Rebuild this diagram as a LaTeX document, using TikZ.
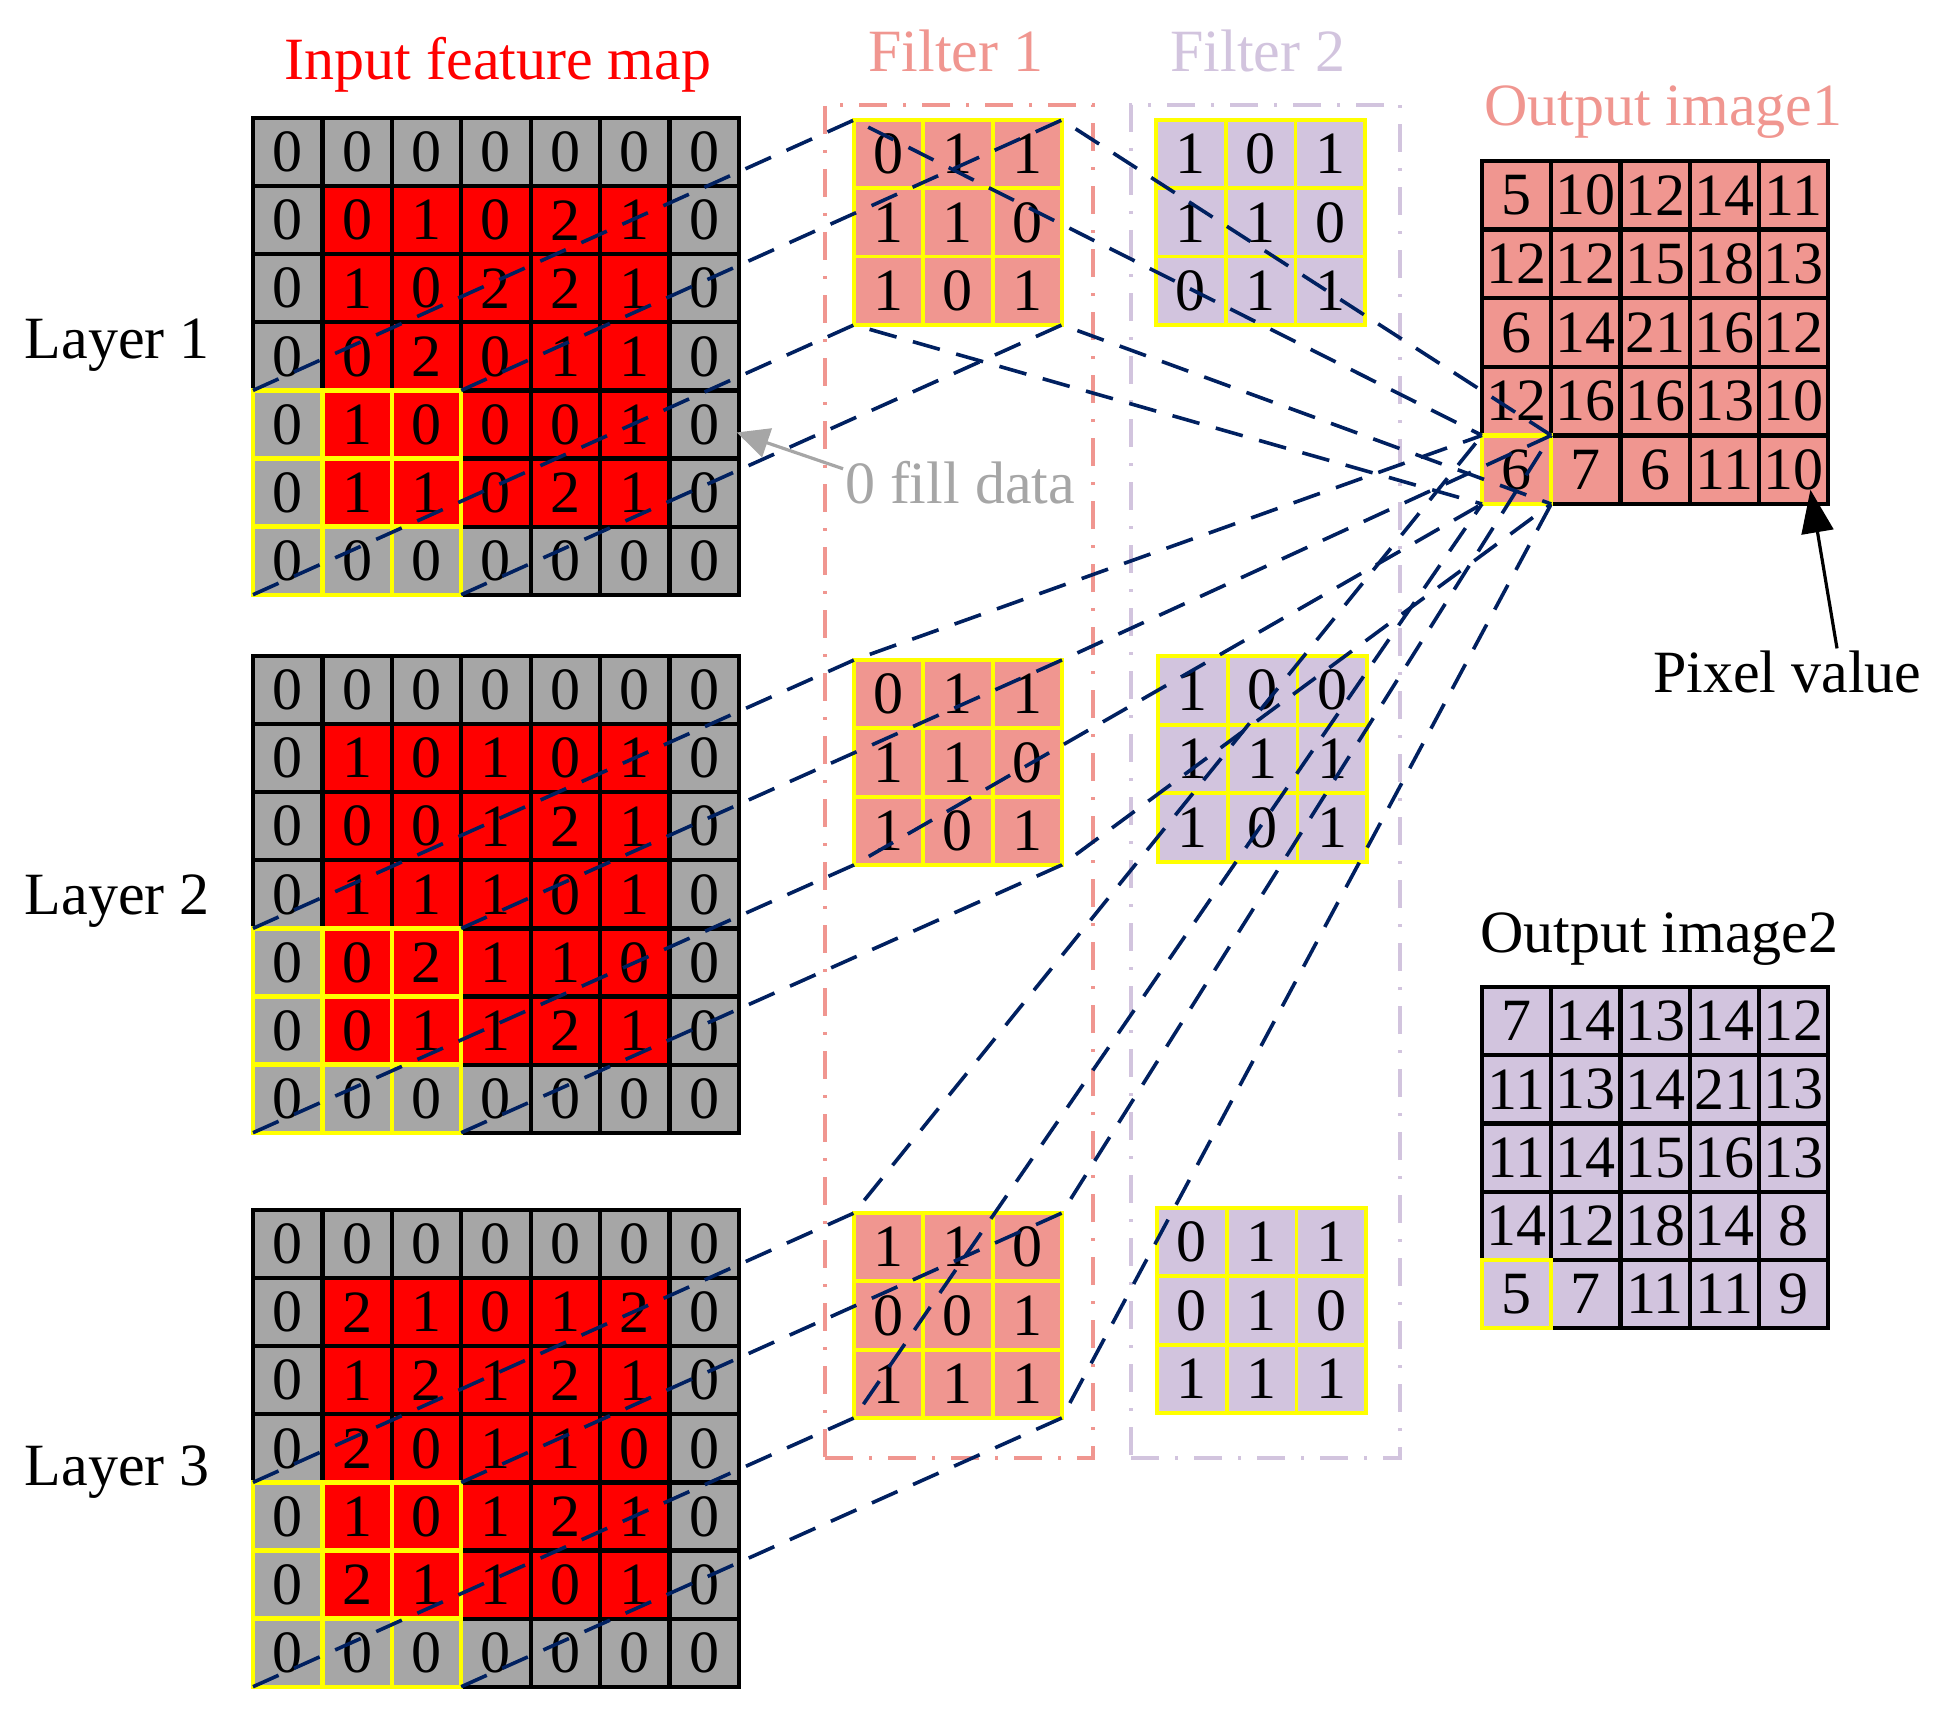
\documentclass[tikz,border=0pt]{standalone}
\usepackage{fontspec}
\setmainfont{Liberation Serif}
\usetikzlibrary{arrows.meta,calc}
\definecolor{cred}{RGB}{255,0,0}
\definecolor{cgray}{RGB}{166,166,166}
\definecolor{csalmon}{RGB}{240,150,144}
\definecolor{clav}{RGB}{210,196,222}
\definecolor{cyel}{RGB}{255,255,0}
\definecolor{cnavy}{RGB}{0,32,96}
\newcommand{\bigfont}{\fontsize{30}{36}\selectfont}
\tikzset{
 cellbase/.style={inner sep=0pt, outer sep=0pt, font=\bigfont},
 incell/.style={cellbase, draw=black, line width=2.1pt},
 ywin/.style={draw=cyel, line width=2.2pt},
 fonecell/.style={cellbase, draw=cyel, fill=csalmon, line width=1.9pt},
 ftwocell/.style={cellbase, draw=cyel, fill=clav, line width=1.9pt},
 oonecell/.style={cellbase, draw=black, fill=csalmon, line width=2.1pt},
 otwocell/.style={cellbase, draw=black, fill=clav, line width=2.1pt},
 conn/.style={draw=cnavy, line width=1.8pt, dash pattern=on 14pt off 8.5pt},
 fbox/.style={line width=1.6pt, dash pattern=on 14pt off 8pt on 1.5pt off 8pt, inner sep=0pt, outer sep=0pt},
 lbl/.style={font=\bigfont, inner sep=0pt, outer sep=0pt},
 garrow/.style={draw=cgray, line width=1.6pt, -{Triangle[length=16pt,width=15pt]}},
 barrow/.style={draw=black, line width=1.6pt, -{Triangle[length=21.5pt,width=16pt]}},
}
% generic grid: #1 name, #2 x0, #3 y0, #4 cell w (px), #5 cell h (px), #6 style, #7 data
\newcommand{\mkgrid}[7]{%
  \foreach \row [count=\r from 0] in {#7} {
    \foreach \v [count=\c from 0] in \row {
      \node[#6, minimum width=#4*0.5pt, minimum height=#5*0.5pt] (#1-\r-\c) at ({#2+(\c+0.5)*#4},{#3+(\r+0.5)*#5}) {\v};
    }
  }
}
% input grid: #1 name, #2 y0, #3 data
\newcommand{\ingrid}[3]{%
  \foreach \row [count=\r from 0] in {#3} {
    \foreach \v [count=\c from 0] in \row {
      \pgfmathtruncatemacro\inn{(\r>0)*(\r<6)*(\c>0)*(\c<6)}
      \ifnum\inn=1 \def\cf{cred}\else\def\cf{cgray}\fi
      \node[incell, fill=\cf, minimum width=34.7pt, minimum height=34.05pt] (#1-\r-\c) at ({253+(\c+0.5)*69.4},{#2+(\r+0.5)*68.1}) {\v};
    }
  }
  \foreach \r in {4,5,6} {
    \foreach \c in {0,1,2} {
      \draw[ywin] (#1-\r-\c.north west) rectangle (#1-\r-\c.south east);
    }
  }
}
\begin{document}
\begin{tikzpicture}[x=0.5pt,y=-0.5pt]
\useasboundingbox (0,0) rectangle (1942,1712);

% filter frames
\node[fbox, draw=csalmon, minimum width=134pt, minimum height=676.5pt] (fboxone) at (959,781.5) {};
\node[fbox, draw=clav, minimum width=134.5pt, minimum height=676.5pt] (fboxtwo) at (1265.5,781.5) {};

% titles
\node[lbl, text=cred, anchor=base] (tin) at (498,80) {Input feature map};
\node[lbl, text=csalmon, anchor=base] (tfone) at (956,72) {Filter 1};
\node[lbl, text=clav, anchor=base] (tftwo) at (1258,72) {Filter 2};
\node[lbl, text=csalmon, anchor=base west] (toone) at (1484,126) {Output image1};
\node[lbl, anchor=base west] (totwo) at (1480,952) {Output image2};
\node[lbl, anchor=base west] (lone) at (25,358) {Layer 1};
\node[lbl, anchor=base west] (ltwo) at (25,914) {Layer 2};
\node[lbl, anchor=base west] (lthree) at (25,1485) {Layer 3};

% input layers
\ingrid{L1}{118}{{0,0,0,0,0,0,0},{0,0,1,0,2,1,0},{0,1,0,2,2,1,0},{0,0,2,0,1,1,0},{0,1,0,0,0,1,0},{0,1,1,0,2,1,0},{0,0,0,0,0,0,0}}
\ingrid{L2}{656}{{0,0,0,0,0,0,0},{0,1,0,1,0,1,0},{0,0,0,1,2,1,0},{0,1,1,1,0,1,0},{0,0,2,1,1,0,0},{0,0,1,1,2,1,0},{0,0,0,0,0,0,0}}
\ingrid{L3}{1210}{{0,0,0,0,0,0,0},{0,2,1,0,1,2,0},{0,1,2,1,2,1,0},{0,2,0,1,1,0,0},{0,1,0,1,2,1,0},{0,2,1,1,0,1,0},{0,0,0,0,0,0,0}}

% filter 1
\mkgrid{F1}{854}{120}{69.3}{68.3}{fonecell}{{0,1,1},{1,1,0},{1,0,1}}
\mkgrid{F2}{854}{660}{69.3}{68.3}{fonecell}{{0,1,1},{1,1,0},{1,0,1}}
\mkgrid{F3}{854}{1213}{69.3}{68.3}{fonecell}{{1,1,0},{0,0,1},{1,1,1}}
% filter 2
\mkgrid{G1}{1156}{120}{69.7}{68.3}{ftwocell}{{1,0,1},{1,1,0},{0,1,1}}
\mkgrid{G2}{1158}{656}{69.7}{68.6}{ftwocell}{{1,0,0},{1,1,1},{1,0,1}}
\mkgrid{G3}{1157}{1208}{69.7}{68.3}{ftwocell}{{0,1,1},{0,1,0},{1,1,1}}

% outputs
\mkgrid{O1}{1482}{161}{69.2}{68.6}{oonecell}{{5,10,12,14,11},{12,12,15,18,13},{6,14,21,16,12},{12,16,16,13,10},{6,7,6,11,10}}
\draw[ywin] (O1-4-0.north west) rectangle (O1-4-0.south east);
\mkgrid{O2}{1482}{987}{69.2}{68.2}{otwocell}{{7,14,13,14,12},{11,13,14,21,13},{11,14,15,16,13},{14,12,18,14,8},{5,7,11,11,9}}
\draw[ywin] (O2-4-0.north west) rectangle (O2-4-0.south east);

% connectors
\foreach \k in {1,2,3} {
  \draw[conn] (L\k-4-0.north west) -- (F\k-0-0.north west) -- (O1-4-0.north west);
  \draw[conn] (L\k-4-2.north east) -- (F\k-0-2.north east) -- (O1-4-0.north east);
  \draw[conn] (L\k-6-0.south west) -- (F\k-2-0.south west) -- (O1-4-0.south west);
  \draw[conn] (L\k-6-2.south east) -- (F\k-2-2.south east) -- (O1-4-0.south east);
}

% annotations
\node[lbl, text=cgray, anchor=base west] (filltxt) at (845,503) {0 fill data};
\coordinate (filltip) at ($(L1-4-6.east)+(-2,8)$);
\draw[garrow] ($(filltxt.north west)+(-2,8)$) -- (filltip);
\node[lbl, anchor=base west] (pix) at (1653,692) {Pixel value};
\coordinate (pixtip) at ($(O1-4-4.center)+(17,20)$);
\draw[barrow] ($(pix.north west)+(184,-2)$) -- (pixtip);
\end{tikzpicture}
\end{document}
